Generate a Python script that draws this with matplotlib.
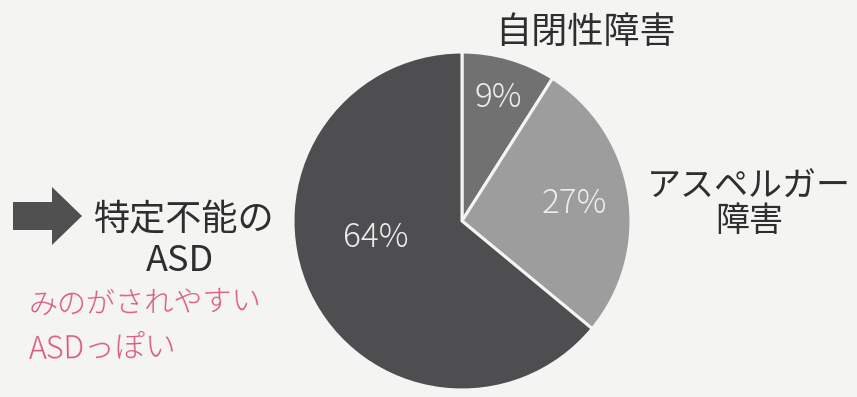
import numpy as np
import matplotlib.pyplot as plt
from matplotlib.patches import FancyArrow

plt.rcParams['font.family'] = ['Noto Sans CJK JP', 'DejaVu Sans']

# 割合 (自閉性障害, アスペルガー障害, 特定不能のASD)
labels = ['自閉性障害', 'アスペルガー\n障害', '特定不能の\nASD']
values = [9, 27, 64]
colors = ['#717171', '#9d9d9d', '#4e4d50']
pct_r = [0.76, 0.67, 0.52]
pct_shift = [0, 0, -14]   # 角度の微調整 (度)
note_lines = ['みのがされやすい', 'ASDっぽい']

W, H = 857, 397
bg = '#f4f4f2'
fig = plt.figure(figsize=(W / 100, H / 100), dpi=100)
fig.patch.set_facecolor(bg)
ax = fig.add_axes([0, 0, 1, 1])
ax.set_facecolor(bg)

cx, cy, r = 462, H - 221, 169
wedges, _ = ax.pie(values, colors=colors, startangle=90, counterclock=False,
                   center=(cx, cy), radius=r,
                   wedgeprops=dict(edgecolor=bg, linewidth=2.2))

for w, v, d, s in zip(wedges, values, pct_r, pct_shift):
    mid = np.deg2rad((w.theta1 + w.theta2) / 2 + s)
    ax.text(cx + d * r * np.cos(mid), cy + d * r * np.sin(mid), f'{v}%',
            ha='center', va='center', fontsize=24, color='#ededed',
            fontweight='light')

txt = dict(ha='center', va='center', fontsize=26, color='#2e2e2e')
ax.text(585, H - 33, labels[0], **txt)
l1, l2 = labels[1].split('\n')
ax.text(749, H - 187, l1, **dict(txt, fontsize=24.5))
ax.text(749, H - 222, l2, **dict(txt, fontsize=24.5))
l1, l2 = labels[2].split('\n')
ax.text(184, H - 220, l1, **txt)
ax.text(180, H - 261, l2, **txt)

ax.add_patch(FancyArrow(13, H - 216, 69, 0, width=28, head_width=58,
                        head_length=30, length_includes_head=True,
                        color='#505050', lw=0))

# 赤ペンの書き込み
ax.text(28, H - 304, note_lines[0], ha='left', va='center', fontsize=21,
        color='#d9587f', fontweight='light', rotation=1)
ax.text(28, H - 348, note_lines[1], ha='left', va='center', fontsize=22,
        color='#d9587f', fontweight='light', rotation=1)

ax.set_xlim(0, W)
ax.set_ylim(0, H)
ax.set_aspect('equal')
ax.axis('off')

fig.savefig('out.png', dpi=100, facecolor=fig.get_facecolor())
